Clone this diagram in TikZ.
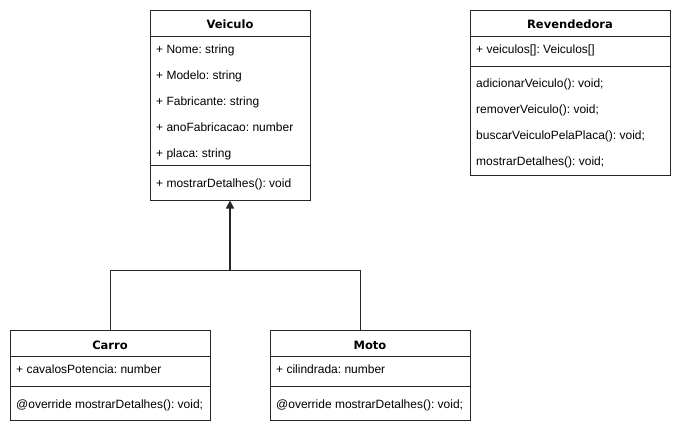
\documentclass[tikz,border=0pt]{standalone}
\usepackage{fontspec}
\setmainfont{Liberation Sans}
\newfontfamily\titlefont{DejaVu Sans}
\usepackage{tikz}
\usetikzlibrary{arrows.meta}
\frenchspacing

\begin{document}
\begin{tikzpicture}[x=1pt,y=-1pt,
            class box/.style={rectangle,draw=black!85,line width=1pt,inner sep=0pt},
            class title/.style={anchor=base,font=\titlefont\fontsize{11.5}{14}\selectfont\bfseries,inner sep=0pt},
            member/.style={anchor=base west,font=\fontsize{12}{14}\selectfont,inner sep=0pt},
            ]
            \useasboundingbox (0,0) rectangle (681,431);

            % Veiculo
            \node[class box, minimum width=160pt, minimum height=190pt] (veiculo) at (230,105) {};
            \node[class title] (veiculoT) at (230,28) {Veiculo};
            \draw[draw=black!85, line width=1pt] (150,36) -- (310,36);
            \node[member] (v1) at (156,53) {+ Nome: string};
            \node[member] (v2) at (156,79) {+ Modelo: string};
            \node[member] (v3) at (156,105) {+ Fabricante: string};
            \node[member] (v4) at (156,131) {+ anoFabricacao: number};
            \node[member] (v5) at (156,157) {+ placa: string};
            \draw[draw=black!85, line width=1pt] (150,165) -- (310,165);
            \node[member] (v6) at (156,187) {+ mostrarDetalhes(): void};

            % Revendedora
            \node[class box, minimum width=200pt, minimum height=165pt] (revenda) at (570,92.5) {};
            \node[class title] (revendaT) at (570,28) {Revendedora};
            \draw[draw=black!85, line width=1pt] (470,36) -- (670,36);
            \node[member] (r1) at (476,53) {+ veiculos[]: Veiculos[]};
            \draw[draw=black!85, line width=1pt] (470,66) -- (670,66);
            \node[member] (r2) at (476,87) {adicionarVeiculo(): void;};
            \node[member] (r3) at (476,113) {removerVeiculo(): void;};
            \node[member] (r4) at (476,139) {buscarVeiculoPelaPlaca(): void;};
            \node[member] (r5) at (476,165) {mostrarDetalhes(): void;};

            % Carro
            \node[class box, minimum width=200pt, minimum height=90pt] (carro) at (110,375) {};
            \node[class title] (carroT) at (110,349) {Carro};
            \draw[draw=black!85, line width=1pt] (10,356) -- (210,356);
            \node[member] (c1) at (16,373) {+ cavalosPotencia: number};
            \draw[draw=black!85, line width=1pt] (10,386) -- (210,386);
            \node[member] (c2) at (16,408) {@override mostrarDetalhes(): void;};

            % Moto
            \node[class box, minimum width=200pt, minimum height=90pt] (moto) at (370,375) {};
            \node[class title] (motoT) at (370,349) {Moto};
            \draw[draw=black!85, line width=1pt] (270,356) -- (470,356);
            \node[member] (m1) at (276,373) {+ cilindrada: number};
            \draw[draw=black!85, line width=1pt] (270,386) -- (470,386);
            \node[member] (m2) at (276,408) {@override mostrarDetalhes(): void;};

            % heranca
            \coordinate (juncao) at (230,270);
            \coordinate (motoTopo) at ([xshift=-10pt]moto.north);
            \draw[draw=black!85, line width=1pt] (carro.north) |- (juncao);
            \draw[draw=black!85, line width=1pt] (motoTopo) |- (juncao);
            \draw[draw=black!85, line width=1.6pt, -{Triangle[width=8pt,length=8pt]}] (juncao) -- (veiculo.south);
        \end{tikzpicture}
\end{document}
